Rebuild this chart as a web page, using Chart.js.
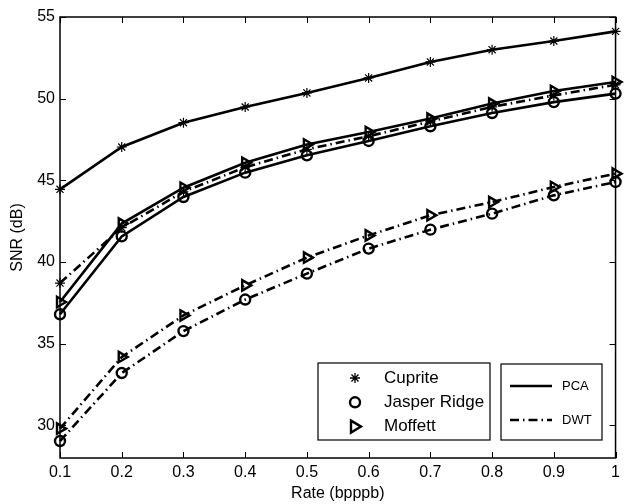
<!DOCTYPE html>
<html>
<head>
<meta charset="utf-8">
<script src="https://cdn.jsdelivr.net/npm/chart.js@4/dist/chart.umd.min.js"></script>
<style>
  html, body { margin: 0; padding: 0; background: #fff; }
  #wrap { width: 625px; height: 504px; }
</style>
</head>
<body>
<div id="wrap"><canvas id="snr_chart" width="625" height="504"></canvas></div>
<script>
// rate axis and tick labels
var rates = [0.1, 0.2, 0.3, 0.4, 0.5, 0.6, 0.7, 0.8, 0.9, 1.0];
var rate_labels = ['0.1', '0.2', '0.3', '0.4', '0.5', '0.6', '0.7', '0.8', '0.9', '1'];
var snr_ticks = [30, 35, 40, 45, 50, 55];

// SNR (dB)
var cuprite_pca = [44.45, 47.04, 48.53, 49.49, 50.35, 51.27, 52.25, 53.0, 53.53, 54.12];
var jasper_pca  = [36.8, 41.57, 43.98, 45.47, 46.53, 47.41, 48.31, 49.12, 49.79, 50.31];
var moffett_pca = [37.55, 42.35, 44.55, 46.08, 47.2, 47.96, 48.78, 49.7, 50.47, 51.02];
var cuprite_dwt = [38.71, 42.1, 44.3, 45.8, 46.9, 47.7, 48.6, 49.5, 50.2, 50.85];
var jasper_dwt  = [29.04, 33.2, 35.77, 37.7, 39.29, 40.82, 41.98, 42.96, 44.08, 44.9];
var moffett_dwt = [29.8, 34.18, 36.73, 38.57, 40.27, 41.63, 42.86, 43.67, 44.59, 45.41];

var FONT = '"Liberation Sans", Arial, Helvetica, sans-serif';
var DASHDOT = [9, 4, 1.5, 4];

function pts(vals) {
  return vals.map(function (v, i) { return { x: rates[i], y: v }; });
}

function series(label, vals, style, dashed) {
  return {
    label: label,
    data: pts(vals),
    borderColor: '#000',
    borderWidth: 2.6,
    borderDash: dashed ? DASHDOT : [],
    backgroundColor: 'transparent',
    pointStyle: style,
    pointRotation: style === 'triangle' ? 90 : 0,
    pointRadius: style === 'circle' ? 5 : (style === 'star' ? 5 : 6),
    pointBorderWidth: style === 'star' ? 1.2 : 2.4,
    pointBorderColor: '#000',
    pointBackgroundColor: 'transparent',
    tension: 0,
    clip: false
  };
}

function marker(ctx, style, x, y) {
  ctx.save();
  ctx.strokeStyle = '#000';
  ctx.lineWidth = 2.4;
  ctx.setLineDash([]);
  ctx.beginPath();
  if (style === 'star') {
    var r = 5;
    for (var k = 0; k < 4; k++) {
      var a = k * Math.PI / 4;
      ctx.moveTo(x - r * Math.cos(a), y - r * Math.sin(a));
      ctx.lineTo(x + r * Math.cos(a), y + r * Math.sin(a));
    }
    ctx.lineWidth = 1.3;
  } else if (style === 'circle') {
    ctx.arc(x, y, 5, 0, Math.PI * 2);
  } else {
    ctx.moveTo(x - 4, y - 6);
    ctx.lineTo(x + 6, y);
    ctx.lineTo(x - 4, y + 6);
    ctx.closePath();
  }
  ctx.stroke();
  ctx.restore();
}

// inward ticks, frame and the two legend boxes
var framePlugin = {
  id: 'frame',
  afterDatasetsDraw: function (chart) {
    var ctx = chart.ctx, ca = chart.chartArea;
    var xs = chart.scales.x, ys = chart.scales.y;
    ctx.save();
    ctx.strokeStyle = '#000';
    ctx.lineWidth = 1;
    ctx.beginPath();
    rates.forEach(function (r) {
      var px = Math.round(xs.getPixelForValue(r)) + 0.5;
      ctx.moveTo(px, ca.bottom); ctx.lineTo(px, ca.bottom - 6);
      ctx.moveTo(px, ca.top); ctx.lineTo(px, ca.top + 6);
    });
    snr_ticks.forEach(function (t) {
      var py = Math.round(ys.getPixelForValue(t)) + 0.5;
      ctx.moveTo(ca.left, py); ctx.lineTo(ca.left + 6, py);
      ctx.moveTo(ca.right, py); ctx.lineTo(ca.right - 6, py);
    });
    ctx.stroke();
    ctx.lineWidth = 1.5;
    ctx.strokeRect(ca.left, ca.top, ca.right - ca.left, ca.bottom - ca.top);

    // legend box: markers
    var b1 = { l: ca.left + 258, t: ca.bottom - 95, w: 172, h: 77 };
    ctx.fillStyle = '#fff';
    ctx.fillRect(b1.l, b1.t, b1.w, b1.h);
    ctx.lineWidth = 1.2;
    ctx.strokeRect(b1.l, b1.t, b1.w, b1.h);
    var names = ['Cuprite', 'Jasper Ridge', 'Moffett'];
    var styles = ['star', 'circle', 'triangle'];
    ctx.font = '17px ' + FONT;
    ctx.textBaseline = 'middle';
    ctx.textAlign = 'left';
    for (var i = 0; i < 3; i++) {
      var yy = b1.t + 15 + i * 24.3;
      marker(ctx, styles[i], b1.l + 37, yy);
      ctx.fillStyle = '#000';
      ctx.fillText(names[i], b1.l + 66, yy);
    }

    // legend box: line styles
    var b2 = { l: ca.left + 441, t: ca.bottom - 94, w: 101, h: 76 };
    ctx.fillStyle = '#fff';
    ctx.fillRect(b2.l, b2.t, b2.w, b2.h);
    ctx.lineWidth = 1.2;
    ctx.strokeRect(b2.l, b2.t, b2.w, b2.h);
    ctx.font = '13px ' + FONT;
    var ln = [['PCA', []], ['DWT', DASHDOT]];
    for (var j = 0; j < 2; j++) {
      var ly = b2.t + 22 + j * 34;
      ctx.beginPath();
      ctx.setLineDash(ln[j][1]);
      ctx.lineWidth = 2.6;
      ctx.moveTo(b2.l + 9, ly);
      ctx.lineTo(b2.l + 51, ly);
      ctx.stroke();
      ctx.setLineDash([]);
      ctx.fillStyle = '#000';
      ctx.fillText(ln[j][0], b2.l + 61, ly);
    }
    ctx.restore();
  }
};

var config = {
  type: 'line',
  data: {
    datasets: [
      series('Cuprite PCA', cuprite_pca, 'star', false),
      series('Jasper Ridge PCA', jasper_pca, 'circle', false),
      series('Moffett PCA', moffett_pca, 'triangle', false),
      series('Cuprite DWT', cuprite_dwt, 'star', true),
      series('Jasper Ridge DWT', jasper_dwt, 'circle', true),
      series('Moffett DWT', moffett_dwt, 'triangle', true)
    ]
  },
  options: {
    responsive: false,
    animation: false,
    layout: { padding: { top: 17, right: 7, left: 0, bottom: 0 } },
    plugins: { legend: { display: false }, tooltip: { enabled: false } },
    scales: {
      x: {
        type: 'linear',
        min: 0.1,
        max: 1,
        afterBuildTicks: function (s) { s.ticks = rates.map(function (r) { return { value: r }; }); },
        afterFit: function (s) { s.height = 46; },
        grid: { display: false, drawTicks: false },
        border: { display: false },
        ticks: {
          color: '#000',
          font: { family: FONT, size: 16 },
          padding: 5,
          maxRotation: 0,
          callback: function (v, i) { return rate_labels[i]; }
        },
        title: {
          display: true,
          text: 'Rate (bpppb)',
          color: '#000',
          font: { family: FONT, size: 16 },
          padding: { top: 0, bottom: 1 }
        }
      },
      y: {
        min: 28,
        max: 55,
        afterBuildTicks: function (s) { s.ticks = snr_ticks.map(function (t) { return { value: t }; }); },
        afterFit: function (s) { s.width = 60; },
        grid: { display: false, drawTicks: false },
        border: { display: false },
        ticks: {
          color: '#000',
          font: { family: FONT, size: 16 },
          padding: 5
        },
        title: {
          display: true,
          text: 'SNR (dB)',
          color: '#000',
          font: { family: FONT, size: 16 },
          padding: { top: 8, bottom: 0 }
        }
      }
    }
  },
  plugins: [framePlugin]
};

var snrChart = new Chart(document.getElementById('snr_chart'), config);
</script>
</body>
</html>
